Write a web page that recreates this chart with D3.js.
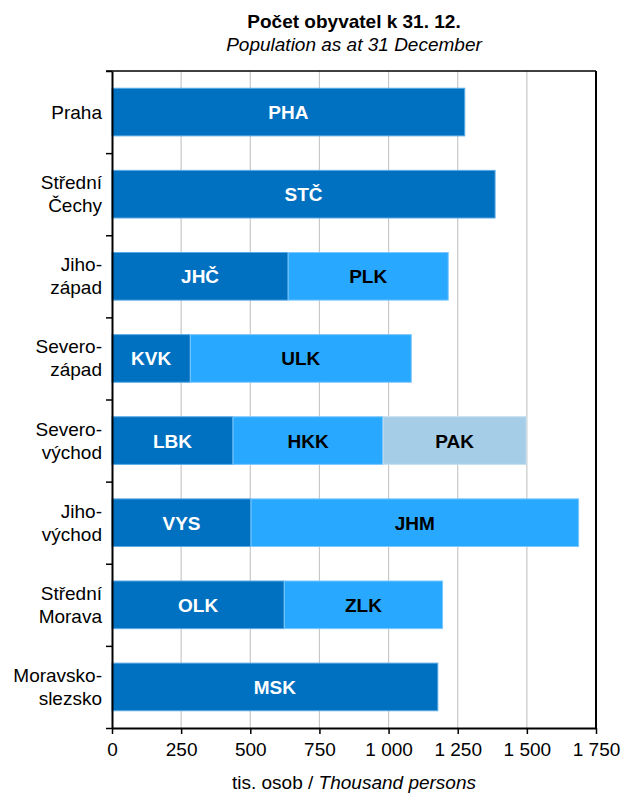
<!DOCTYPE html>
<html>
<head>
<meta charset="utf-8">
<script src="https://cdn.jsdelivr.net/npm/d3@7"></script>
<style>
  body { margin: 0; background: #fff; }
  text { font-family: "Liberation Sans", Arial, sans-serif; }
</style>
</head>
<body>
<div id="chart"></div>
<script>
// regions (NUTS 2) and the kraje stacked inside each bar, thousand persons
const regionLines = [
  ["Praha"], ["Střední", "Čechy"], ["Jiho-", "západ"], ["Severo-", "západ"],
  ["Severo-", "východ"], ["Jiho-", "východ"], ["Střední", "Morava"], ["Moravsko-", "slezsko"]
];
const krajFirst = ["PHA", "STČ", "JHČ", "KVK", "LBK", "VYS", "OLK", "MSK"];
const valFirst = [1275.4, 1385.1, 637.0, 283.2, 437.6, 502.6, 622.9, 1178.0];
const krajSecond = ["", "", "PLK", "ULK", "HKK", "JHM", "ZLK", ""];
const valSecond = [0, 0, 578.7, 798.9, 542.6, 1184.6, 572.4, 0];
const krajThird = ["", "", "", "", "PAK", "", "", ""];
const valThird = [0, 0, 0, 0, 517.1, 0, 0, 0];
const xTicks = [0, 250, 500, 750, 1000, 1250, 1500, 1750];

const W = 622, H = 794;
const margin = { top: 71, right: 26, bottom: 66, left: 112 };
const width = W - margin.left - margin.right;
const height = H - margin.top - margin.bottom;

const fills = ["#0070c0", "#29a8ff", "#a6cde8"];
const strokes = ["#5aaae6", "#7cc8ff", "#c4def0"];
const labelColors = ["#fff", "#000", "#000"];

const svg = d3.select("#chart").append("svg")
  .attr("width", W).attr("height", H);

const g = svg.append("g").attr("transform", `translate(${margin.left},${margin.top})`);

const x = d3.scaleLinear().domain([0, 1750]).range([0, width]);
const y = d3.scaleBand().domain(d3.range(regionLines.length)).range([0, height]).paddingInner(0.42).paddingOuter(0.21);

const fmt = d3.formatLocale({ decimal: ",", thousands: "\u00a0", grouping: [3], currency: ["", ""] }).format(",");

// gridlines
g.append("g").selectAll("line")
  .data(xTicks.slice(1, -1))
  .enter().append("line")
  .attr("x1", d => x(d)).attr("x2", d => x(d))
  .attr("y1", 0).attr("y2", height)
  .attr("stroke", "#c8c8c8").attr("stroke-width", 1.2);

// stacked segments
const rows = regionLines.map((r, i) => {
  const segs = [];
  let s = 0;
  [[krajFirst, valFirst], [krajSecond, valSecond], [krajThird, valThird]].forEach((p, k) => {
    if (p[1][i] > 0) {
      segs.push({ row: i, level: k, code: p[0][i], x0: s, x1: s + p[1][i] });
      s += p[1][i];
    }
  });
  return segs;
});
const segs = rows.flat();

g.append("g").selectAll("rect")
  .data(segs)
  .enter().append("rect")
  .attr("x", d => x(d.x0))
  .attr("y", d => y(d.row))
  .attr("width", d => x(d.x1) - x(d.x0))
  .attr("height", y.bandwidth())
  .attr("fill", d => fills[d.level])
  .attr("stroke", d => strokes[d.level])
  .attr("stroke-width", 1);

g.append("g").selectAll("text")
  .data(segs)
  .enter().append("text")
  .attr("x", d => (x(d.x0) + x(d.x1)) / 2)
  .attr("y", d => y(d.row) + y.bandwidth() / 2 + 7)
  .attr("text-anchor", "middle")
  .attr("font-size", "19px")
  .attr("font-weight", "bold")
  .attr("fill", d => labelColors[d.level])
  .text(d => d.code);

// frame: top and right borders
g.append("line").attr("x1", -6).attr("x2", width).attr("y1", 0).attr("y2", 0)
  .attr("stroke", "#000").attr("stroke-width", 1.5);
g.append("line").attr("x1", width).attr("x2", width).attr("y1", 0).attr("y2", height)
  .attr("stroke", "#000").attr("stroke-width", 2);

// left axis with ticks at category boundaries
const yb = d3.scaleLinear().domain([0, regionLines.length]).range([0, height]);
const yAxis = g.append("g")
  .call(d3.axisLeft(yb).tickValues(d3.range(regionLines.length + 1)).tickSize(6).tickSizeOuter(0).tickFormat(""));
yAxis.select(".domain").attr("stroke-width", 2);
yAxis.selectAll(".tick line").attr("stroke-width", 1.5);

// category labels
g.append("g").selectAll("text")
  .data(regionLines)
  .enter().append("text")
  .attr("text-anchor", "end")
  .attr("font-size", "19px")
  .attr("fill", "#000")
  .each(function (lines, i) {
    const cy = y(i) + y.bandwidth() / 2;
    const lh = 23;
    const first = cy - (lines.length - 1) * lh / 2 + 6.5;
    d3.select(this).selectAll("tspan")
      .data(lines).enter().append("tspan")
      .attr("x", -10)
      .attr("y", (d, j) => first + j * lh)
      .text(d => d);
  });

// bottom axis
const xAxis = g.append("g")
  .attr("transform", `translate(0,${height})`)
  .call(d3.axisBottom(x).tickValues(xTicks).tickSize(6).tickSizeOuter(0).tickPadding(9).tickFormat(fmt));
xAxis.select(".domain").attr("stroke-width", 2);
xAxis.selectAll(".tick line").attr("stroke-width", 1.5);
xAxis.selectAll(".tick text")
  .attr("font-size", "19px")
  .attr("font-family", "Liberation Sans, Arial, sans-serif")
  .attr("fill", "#000");

// axis title
const xt = svg.append("text")
  .attr("x", margin.left + width / 2)
  .attr("y", 789)
  .attr("text-anchor", "middle")
  .attr("font-size", "19px");
xt.append("tspan").text("tis. osob / ");
xt.append("tspan").attr("font-style", "italic").text("Thousand persons");

// chart title
svg.append("text")
  .attr("x", margin.left + width / 2)
  .attr("y", 28)
  .attr("text-anchor", "middle")
  .attr("font-size", "19px")
  .attr("font-weight", "bold")
  .text("Počet obyvatel k 31. 12.");
svg.append("text")
  .attr("x", margin.left + width / 2)
  .attr("y", 51)
  .attr("text-anchor", "middle")
  .attr("font-size", "19px")
  .attr("font-style", "italic")
  .text("Population as at 31 December");
</script>
</body>
</html>
